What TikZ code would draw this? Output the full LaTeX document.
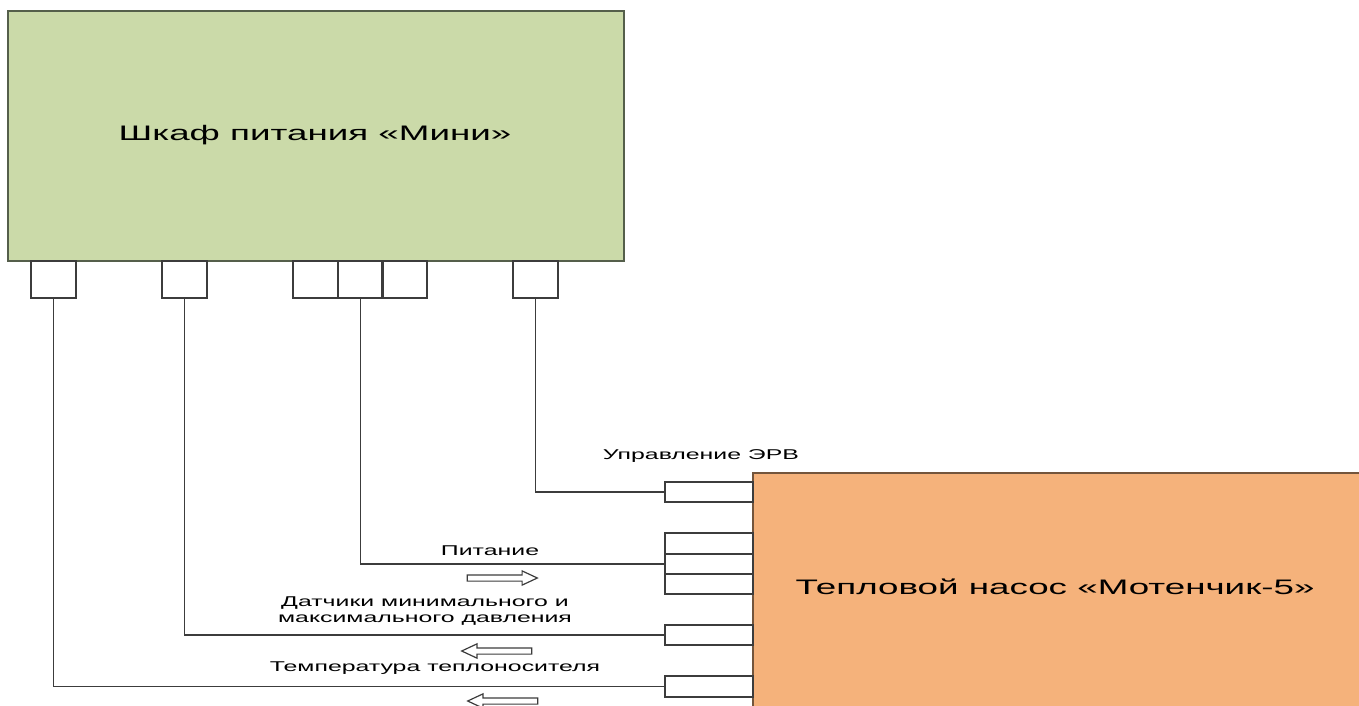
\documentclass[tikz,border=0pt]{standalone}
\usepackage{fontspec}
\setmainfont{Liberation Sans}
\newfontfamily\widefont[FakeStretch=1.75]{Liberation Sans}
\usetikzlibrary{shapes.arrows}
\definecolor{cabgreen}{RGB}{203,218,169}
\definecolor{cabedge}{RGB}{85,95,75}
\definecolor{pumporange}{RGB}{245,178,123}
\definecolor{pumpedge}{RGB}{115,85,60}
\definecolor{wire}{RGB}{60,60,60}
\tikzset{
  cabinet/.style={draw=cabedge,line width=2.2pt,fill=cabgreen,anchor=north west,
    inner sep=0pt,font=\widefont\fontsize{21}{25}\selectfont},
  pump/.style={draw=pumpedge,line width=2.2pt,fill=pumporange,anchor=north west,
    inner sep=0pt,font=\widefont\fontsize{21}{25}\selectfont},
  plug/.style={draw=wire,line width=1.6pt,anchor=north west,inner sep=0pt,
    minimum width=45pt,minimum height=37pt},
  socket/.style={draw=wire,line width=1.6pt,anchor=north west,inner sep=0pt,
    minimum width=88pt},
  sig/.style={font=\widefont\fontsize{14.2}{16}\selectfont,inner sep=0pt,align=center},
  flow/.style={single arrow,draw=wire,line width=1.2pt,inner xsep=0pt,inner ysep=2.5pt,
    minimum height=70pt,minimum width=13pt,single arrow head extend=4pt,
    single arrow tip angle=50}
}
\begin{document}
\begin{tikzpicture}[x=1pt,y=-1pt,line width=1.6pt]
\useasboundingbox (0,0) rectangle (1359,705);

\node[cabinet,minimum width=616pt,minimum height=250pt] (mini) at (7,10) {};
\node[font=\widefont\fontsize{21}{25}\selectfont] (minitxt) at (315,135) {Шкаф питания «Мини»};

\node[pump,minimum width=620pt,minimum height=245pt] (motor) at (752,472) {};
\node[font=\widefont\fontsize{21}{25}\selectfont] (motortxt) at (1055,587) {Тепловой насос «Мотенчик-5»};

\foreach \n/\x in {p1/30,p2/161,p3/292,p4/337,p5/381,p6/512}
  \node[plug] (\n) at (\x,260) {};

\node[socket,minimum height=20pt] (e1) at (664,481) {};
\node[socket,minimum height=21pt] (s1) at (664,532) {};
\node[socket,minimum height=20pt] (s2) at (664,553) {};
\node[socket,minimum height=20pt] (s3) at (664,573) {};
\node[socket,minimum height=20pt] (d1) at (664,624) {};
\node[socket,minimum height=21pt] (t1) at (664,675) {};

\draw[wire] (p6.south) |- (e1.west);
\draw[wire] (p4.south) |- (s2.west);
\draw[wire] (p2.south) |- (d1.west);
\draw[wire] (p1.south) |- (t1.west);

\node[sig] (erv) at (701,456) {Управление ЭРВ};
\node[sig] (power) at (490,551) {Питание};
\node[sig] (press) at (425,611) {Датчики минимального и\\максимального давления};
\node[sig] (temp) at (435,668) {Температура теплоносителя};

\node[flow] (a1) at (499,578) {};
\node[flow,shape border rotate=180] (a2) at (500,651) {};
\node[flow,shape border rotate=180] (a3) at (506,701) {};

\end{tikzpicture}
\end{document}
